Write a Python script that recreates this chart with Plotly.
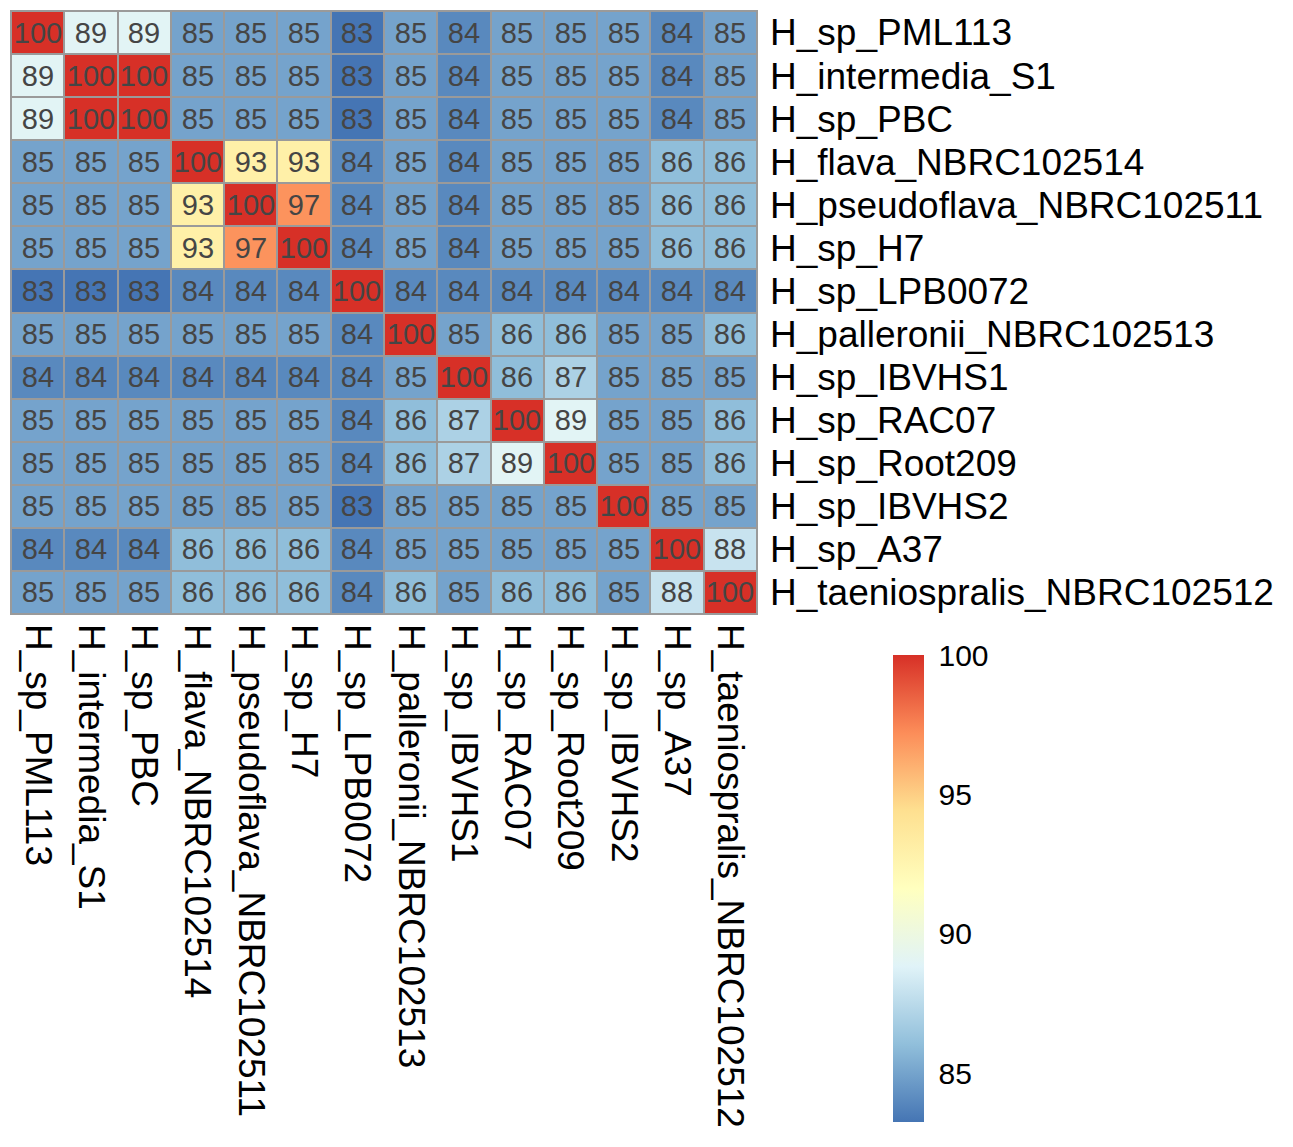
# ANI heatmap, pheatmap style, redone with plotly

import plotly.graph_objects as go

strains = ["H_sp_PML113", "H_intermedia_S1", "H_sp_PBC", "H_flava_NBRC102514",
           "H_pseudoflava_NBRC102511", "H_sp_H7", "H_sp_LPB0072",
           "H_palleronii_NBRC102513", "H_sp_IBVHS1", "H_sp_RAC07", "H_sp_Root209",
           "H_sp_IBVHS2", "H_sp_A37", "H_taeniospralis_NBRC102512"]

# rows top to bottom, columns left to right
ani = [
    [100, 89, 89, 85, 85, 85, 83, 85, 84, 85, 85, 85, 84, 85],
    [89, 100, 100, 85, 85, 85, 83, 85, 84, 85, 85, 85, 84, 85],
    [89, 100, 100, 85, 85, 85, 83, 85, 84, 85, 85, 85, 84, 85],
    [85, 85, 85, 100, 93, 93, 84, 85, 84, 85, 85, 85, 86, 86],
    [85, 85, 85, 93, 100, 97, 84, 85, 84, 85, 85, 85, 86, 86],
    [85, 85, 85, 93, 97, 100, 84, 85, 84, 85, 85, 85, 86, 86],
    [83, 83, 83, 84, 84, 84, 100, 84, 84, 84, 84, 84, 84, 84],
    [85, 85, 85, 85, 85, 85, 84, 100, 85, 86, 86, 85, 85, 86],
    [84, 84, 84, 84, 84, 84, 84, 85, 100, 86, 87, 85, 85, 85],
    [85, 85, 85, 85, 85, 85, 84, 86, 87, 100, 89, 85, 85, 86],
    [85, 85, 85, 85, 85, 85, 84, 86, 87, 89, 100, 85, 85, 86],
    [85, 85, 85, 85, 85, 85, 83, 85, 85, 85, 85, 100, 85, 85],
    [84, 84, 84, 86, 86, 86, 84, 85, 85, 85, 85, 85, 100, 88],
    [85, 85, 85, 86, 86, 86, 84, 86, 85, 86, 86, 85, 88, 100],
]

bar_ticks = [85, 90, 95, 100]

# rev(brewer.pal(7, "RdYlBu")) like pheatmap
rdylbu = ["#4575B4", "#91BFDB", "#E0F3F8", "#FFFFBF", "#FEE090", "#FC8D59", "#D73027"]
scale = [[i / (len(rdylbu) - 1), c] for i, c in enumerate(rdylbu)]

font = "Liberation Sans, Arial, sans-serif"
labels_txt = [[str(v) for v in row] for row in ani]

# page body adds ~8px, so plot area in figure pixels: x 3..749, y 3..606
W, H = 1293, 1147
L, R, T, B = 3, 749, 3, 606
pw, ph = R - L, B - T

fig = go.Figure()
fig.add_trace(go.Heatmap(
    z=ani, x=strains, y=strains,
    text=labels_txt, texttemplate="%{text}",
    textfont=dict(family=font, size=29, color="#454545"),
    colorscale=scale, zmin=83.25, zmax=100,
    xgap=2, ygap=2,
    colorbar=dict(
        x=(885 - L) / pw, xanchor="left",
        y=(B - 1114) / ph, yanchor="bottom",
        len=467, lenmode="pixels", thickness=31,
        xpad=0, ypad=0, outlinewidth=0,
        tickvals=bar_ticks, ticks="outside", ticklen=9,
        tickcolor="rgba(0,0,0,0)",
        tickfont=dict(family=font, size=30, color="black"),
    ),
))

# outer grey frame of the cell grid
fig.add_shape(type="rect", xref="paper", yref="paper", x0=0, x1=1, y0=0, y1=1,
              line=dict(color="#9a9a9a", width=2))

fig.update_xaxes(side="bottom", tickangle=90, ticks="", showgrid=False,
                 zeroline=False, ticklabelstandoff=9, automargin=False,
                 tickmode="array", tickvals=strains,
                 tickfont=dict(family=font, size=37, color="black"))
fig.update_yaxes(side="right", autorange="reversed", ticks="", showgrid=False,
                 zeroline=False, ticklabelstandoff=12, automargin=False,
                 tickmode="array", tickvals=strains,
                 tickfont=dict(family=font, size=37, color="black"))

fig.update_layout(width=W, height=H,
                  margin=dict(l=L, r=W - R, t=T, b=H - B, autoexpand=False),
                  plot_bgcolor="#9a9a9a", paper_bgcolor="white")

fig.write_html("out.html")
